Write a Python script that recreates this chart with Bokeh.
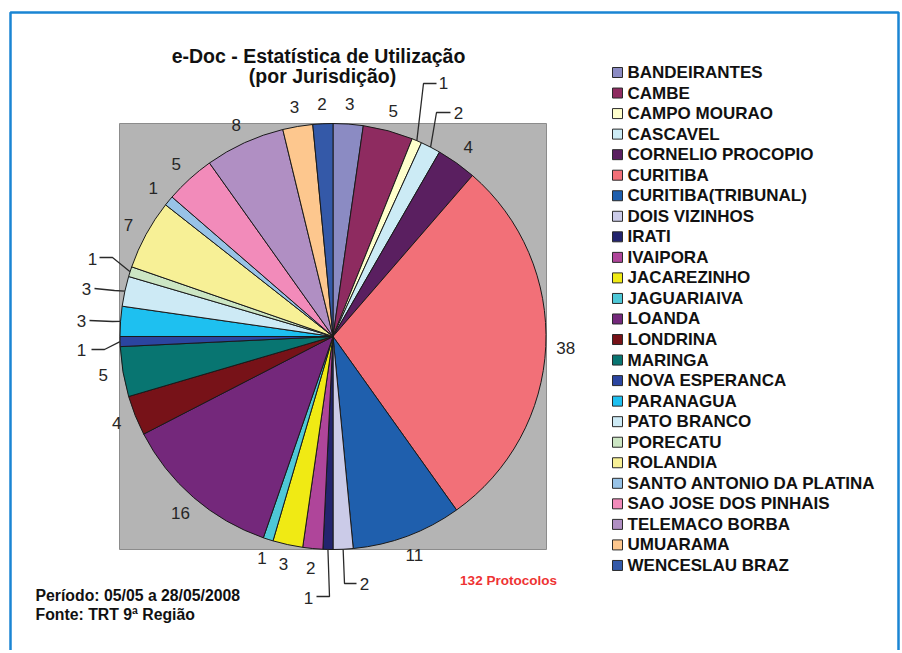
import math
from bokeh.plotting import figure
from bokeh.models import Range1d, ColumnDataSource
from bokeh.core.properties import value
from bokeh.embed import file_html
from bokeh.resources import INLINE

# ---------------- data ----------------
names = ["BANDEIRANTES", "CAMBE", "CAMPO MOURAO", "CASCAVEL", "CORNELIO PROCOPIO",
         "CURITIBA", "CURITIBA(TRIBUNAL)", "DOIS VIZINHOS", "IRATI", "IVAIPORA",
         "JACAREZINHO", "JAGUARIAIVA", "LOANDA", "LONDRINA", "MARINGA",
         "NOVA ESPERANCA", "PARANAGUA", "PATO BRANCO", "PORECATU", "ROLANDIA",
         "SANTO ANTONIO DA PLATINA", "SAO JOSE DOS PINHAIS", "TELEMACO BORBA",
         "UMUARAMA", "WENCESLAU BRAZ"]
counts = [3, 5, 1, 2, 4, 38, 11, 2, 1, 2, 3, 1, 16, 4, 5, 1, 3, 3, 1, 7, 1, 5, 8, 3, 2]
colors = ["#8B8BC3", "#8E2B60", "#FFFFCC", "#CCEBF5", "#5A1F60",
          "#F27078", "#1F5FAD", "#CBCBE8", "#23246E", "#AF459A",
          "#F0EA14", "#4EC8D7", "#74287B", "#771218", "#087571",
          "#2B45A0", "#1EC0F0", "#CDEAF5", "#CCE6C4", "#F7F096",
          "#98C3E7", "#F28BBA", "#B08FC3", "#FDC78E", "#3459A8"]

title_lines = ["e-Doc - Estatística de Utilização", "(por Jurisdição)"]
total_text = "132 Protocolos"
footer_lines = ["Período: 05/05 a 28/05/2008", "Fonte: TRT 9ª Região"]

# ---------------- layout (page pixel coordinates) ----------------
W, H = 902, 650
def X(px):
    return px
def Y(py):
    return H - py

CX, CY, R = 332.5, 336.0, 213.0
LABEL_R = 233.0
# displaced labels with leader lines: index -> (label pos, leader points from label side)
leaders = {
    2: ((443, 82), [(436, 83), (423, 83)]),
    3: ((458, 112), [(450, 112), (436, 112)]),
    7: ((364, 583), [(356, 583), (344, 583)]),
    8: ((308, 597), [(316, 596), (329, 596)]),
    15: ((81, 349), [(91, 349), (104, 349)]),
    16: ((81, 320), [(89, 320), (112, 321)]),
    17: ((86, 288), [(94, 288), (114, 290)]),
    18: ((92, 258), [(99, 257), (112, 257)]),
}

p = figure(width=W, height=H, x_range=Range1d(0, W), y_range=Range1d(0, H),
           output_backend="svg", toolbar_location=None, min_border=0,
           x_axis_location=None, y_axis_location=None,
           outline_line_color=None, background_fill_color="white",
           border_fill_color="white")
p.grid.visible = False

FONT = value("Liberation Sans")

# outer blue frame (left, top, right)
p.line([X(10), X(10), X(898), X(898)], [Y(700), Y(12), Y(12), Y(700)],
       line_color="#1A85D3", line_width=2.5)

# gray plot area
p.quad(left=X(119), right=X(546), top=Y(123), bottom=Y(549),
       fill_color="#B4B4B4", line_color="#8C8C8C", line_width=1)

# pie wedges (clockwise from 12 o'clock)
total = float(sum(counts))
starts, ends, mids = [], [], []
acc = 0.0
for c in counts:
    s = acc / total * 2 * math.pi
    acc += c
    e = acc / total * 2 * math.pi
    starts.append(s); ends.append(e); mids.append((s + e) / 2)

src = ColumnDataSource(dict(
    start=[math.pi / 2 - e for e in ends],
    end=[math.pi / 2 - s for s in starts],
    color=colors))
p.wedge(x=X(CX), y=Y(CY), radius=R, radius_units="screen",
        start_angle="start", end_angle="end", fill_color="color",
        line_color="#1A1A1A", line_width=1, source=src)

# data labels
lx, ly, lt = [], [], []
lines_x, lines_y = [], []
for i, c in enumerate(counts):
    th = mids[i]
    if i in leaders:
        (tx, ty), pts = leaders[i]
        ex = CX + R * math.sin(th)
        ey = CY - R * math.cos(th)
        lines_x.append([X(pt[0]) for pt in pts] + [X(ex)])
        lines_y.append([Y(pt[1]) for pt in pts] + [Y(ey)])
    else:
        tx = CX + LABEL_R * math.sin(th)
        ty = CY - LABEL_R * math.cos(th)
    lx.append(X(tx)); ly.append(Y(ty)); lt.append(str(c))

p.multi_line(lines_x, lines_y, line_color="#2A2A2A", line_width=1.3)
p.text(lx, ly, text=lt, text_font=FONT, text_font_size="17px",
       text_color="#262626", text_align="center", text_baseline="middle")

# title
p.text([X(318), X(322)], [Y(55), Y(75)], text=title_lines, text_font=FONT,
       text_font_size="19.5px", text_font_style="bold", text_color="#111111",
       text_align="center", text_baseline="middle")

# legend
leg_y = [Y(72 + i * 20.54) for i in range(len(names))]
p.rect([X(617)] * len(names), leg_y, width=10, height=10,
       width_units="screen", height_units="screen",
       fill_color=colors, line_color="#2A2A2A", line_width=1)
p.text([X(627)] * len(names), leg_y, text=names, text_font=FONT,
       text_font_size="17px", text_font_style="bold", text_color="#111111",
       text_align="left", text_baseline="middle")

# total
p.text([X(508)], [Y(580)], text=[total_text], text_font=FONT,
       text_font_size="13.5px", text_font_style="bold", text_color="#EE3333",
       text_align="center", text_baseline="middle")

# footer
p.text([X(35), X(35)], [Y(595), Y(614)], text=footer_lines, text_font=FONT,
       text_font_size="15.8px", text_font_style="bold", text_color="#111111",
       text_align="left", text_baseline="middle")

open("out.html", "w").write(file_html(p, INLINE))
